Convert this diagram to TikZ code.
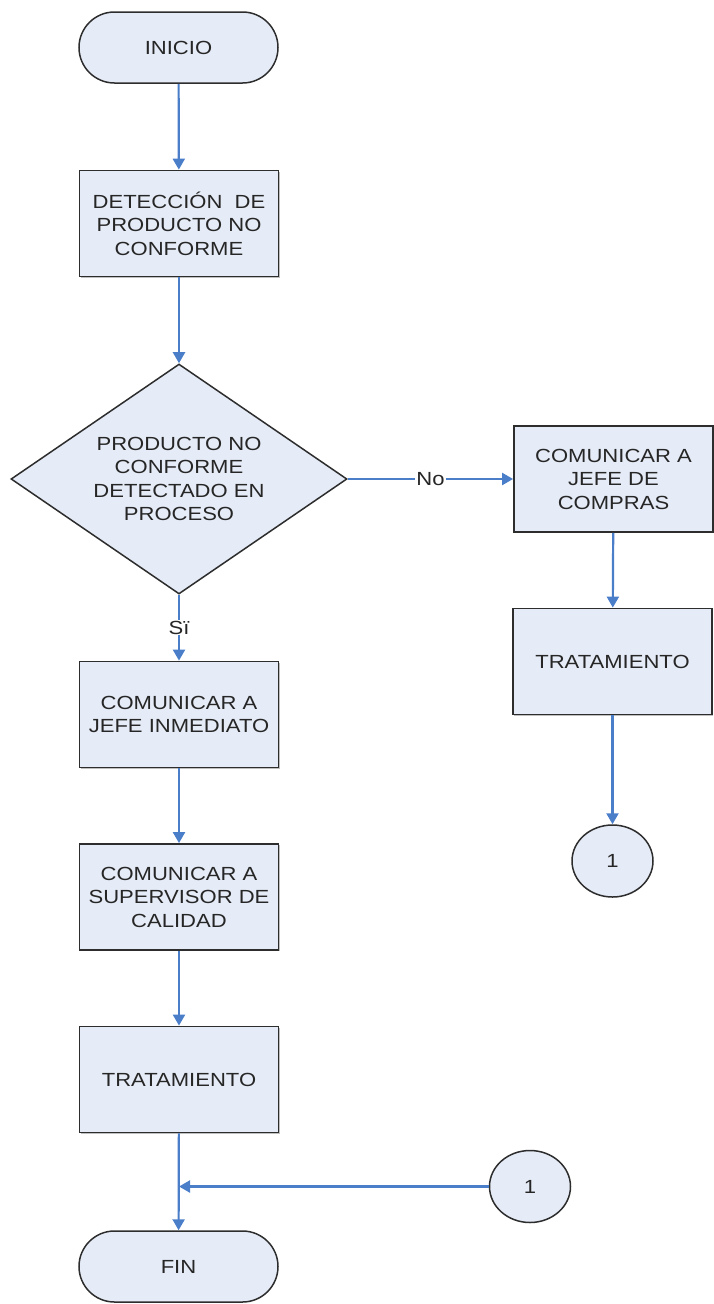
\documentclass[tikz,border=0pt]{standalone}
\usepackage{fontspec}
\setmainfont[FakeStretch=1.16]{Liberation Sans}
\usetikzlibrary{shapes.geometric,shapes.misc,arrows.meta,shadows}
\definecolor{boxfill}{RGB}{230,236,247}
\definecolor{arrowblue}{RGB}{74,126,200}
\definecolor{edgegray}{RGB}{45,45,45}
\begin{document}
\begin{tikzpicture}[x=1pt,y=-1pt,
  every node/.style={font=\fontsize{19}{23.5}\selectfont, text=black!85},
  procbox/.style={draw=edgegray, line width=1.8pt, fill=boxfill, minimum width=199pt,
    minimum height=106pt, align=center, inner sep=0pt,
    drop shadow={shadow xshift=1.4pt, shadow yshift=-1.4pt, fill=black!50}},
  terminal/.style={rounded rectangle, draw=edgegray, line width=1.5pt, fill=boxfill,
    minimum width=199pt, minimum height=71pt, inner sep=0pt},
  decision/.style={diamond, aspect=1.46, draw=edgegray, line width=1.5pt, fill=boxfill,
    minimum width=336pt, minimum height=230pt, inner sep=0pt, align=center},
  connector/.style={ellipse, draw=edgegray, line width=1.5pt, fill=boxfill,
    minimum width=81pt, minimum height=72pt, inner sep=0pt},
  arr/.style={draw=arrowblue, line width=2.2pt,
    -{Triangle[width=12pt,length=11pt,fill=arrowblue]}},
  lbl/.style={fill=white, inner sep=1pt}
]
\useasboundingbox (0,0) rectangle (714,1304);

\node[terminal] (inicio) at (178.5,47.5) {INICIO};
\node[procbox] (det) at (179,223.5) {DETECCIÓN\ \ DE\\PRODUCTO NO\\CONFORME};
\node[decision] (dec) at (179,479) {PRODUCTO NO\\CONFORME\\DETECTADO EN\\PROCESO};
\node[procbox] (compras) at (613.5,479) {COMUNICAR A\\JEFE DE\\COMPRAS};
\node[procbox] (tratR) at (612.5,661.5) {TRATAMIENTO};
\node[connector] (c1R) at (612.5,861) {1};
\node[procbox] (jefe) at (179,714.5) {COMUNICAR A\\JEFE INMEDIATO};
\node[procbox] (sup) at (179,897) {COMUNICAR A\\SUPERVISOR DE\\CALIDAD};
\node[procbox] (tratL) at (179,1079.5) {TRATAMIENTO};
\node[connector] (c1L) at (530,1186.5) {1};
\node[terminal] (fin) at (178.5,1266.5) {FIN};

\draw[arr] (inicio) -- (det);
\draw[arr] (det) -- (dec);
\draw[arr] (dec.east) -- node[lbl] {No} (compras.west);
\draw[arr] (dec.south) -- node[lbl] {Sï} (jefe.north);
\draw[arr] (compras) -- (tratR);
\draw[arr] (tratR) -- (c1R);
\draw[arr] (jefe) -- (sup);
\draw[arr] (sup) -- (tratL);
\draw[arr] (tratL) -- (fin);
\coordinate (join) at (c1L.west -| tratL.south);
\draw[arr] (c1L.west) -- (join);
\end{tikzpicture}
\end{document}
